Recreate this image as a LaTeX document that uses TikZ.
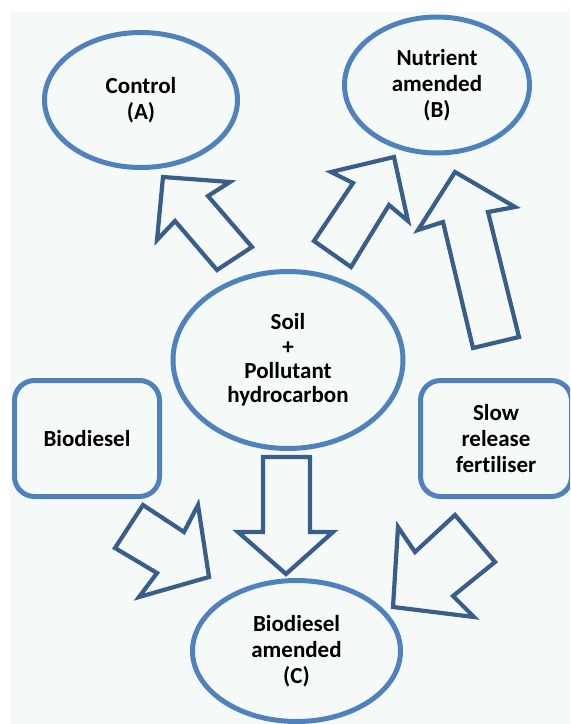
\documentclass[tikz,border=0pt]{standalone}
\usepackage{fontspec}
\setmainfont{Carlito}[Ligatures={NoCommon}]
\usepackage{tikz}
\usetikzlibrary{shapes.geometric}
\definecolor{ovalblue}{RGB}{79,129,189}
\definecolor{arrowblue}{RGB}{58,94,140}
\definecolor{paper}{RGB}{245,250,248}
\tikzset{
	labeltext/.style={font=\bfseries\fontsize{11.5}{13}\selectfont, align=center},
	oval/.style={ellipse, draw=ovalblue, line width=2.5pt, inner sep=0pt, labeltext},
	roundbox/.style={rectangle, rounded corners=10pt, draw=ovalblue, line width=2.5pt, inner sep=0pt, labeltext},
	blockarrow/.style={draw=arrowblue, line width=2.1pt, line join=miter, fill=paper}
}

\begin{document}
\begin{tikzpicture}[x=0.5pt,y=-0.5pt]
	\useasboundingbox (0,0) rectangle (570,724);
	\clip (0,0) rectangle (570,724);
	\fill[paper] (10,12) rectangle (570,724);
	\node[oval, minimum width=96.5pt, minimum height=67.5pt] (ctrl) at (141,100) {Control\\(A)};
	\node[oval, minimum width=92.5pt, minimum height=68pt] (nutr) at (437,85) {Nutrient\\amended\\(B)};
	\node[oval, minimum width=115pt, minimum height=88.5pt, font=\bfseries\fontsize{11.5}{12.2}\selectfont] (soil) at (288,360) {Soil\\+\\Pollutant\\hydrocarbon};
	\node[roundbox, minimum width=72.5pt, minimum height=58pt] (bio) at (87,438.5) {Biodiesel};
	\node[roundbox, minimum width=75.5pt, minimum height=58pt] (slow) at (496,438.5) {Slow\\release\\fertiliser};
	\node[oval, minimum width=104pt, minimum height=70.5pt] (amend) at (296.5,651) {Biodiesel\\amended\\(C)};
	\draw[blockarrow] (163,177) -- (230,182) -- (208,196) -- (252,247) -- (217,270) -- (175,221) -- (157,240) -- cycle;
	\draw[blockarrow] (394,157) -- (408,221) -- (389,205) -- (351,267) -- (314,241) -- (353,183) -- (331,172) -- cycle;
	\draw[blockarrow] (455,172) -- (515,207) -- (488,212) -- (519,337) -- (473,348) -- (443,222) -- (418,230) -- cycle;
	\draw[blockarrow] (263,457) -- (310,457) -- (310,532) -- (333,532) -- (286,574) -- (238,532) -- (263,532) -- cycle;
	\draw[blockarrow] (143,505) -- (184,532) -- (198,505) -- (209,577) -- (139,597) -- (157,573) -- (115,548) -- cycle;
	\draw[blockarrow] (393,607) -- (398,527) -- (415,552) -- (455,515) -- (495,562) -- (453,596) -- (474,617) -- cycle;
\end{tikzpicture}
\end{document}
